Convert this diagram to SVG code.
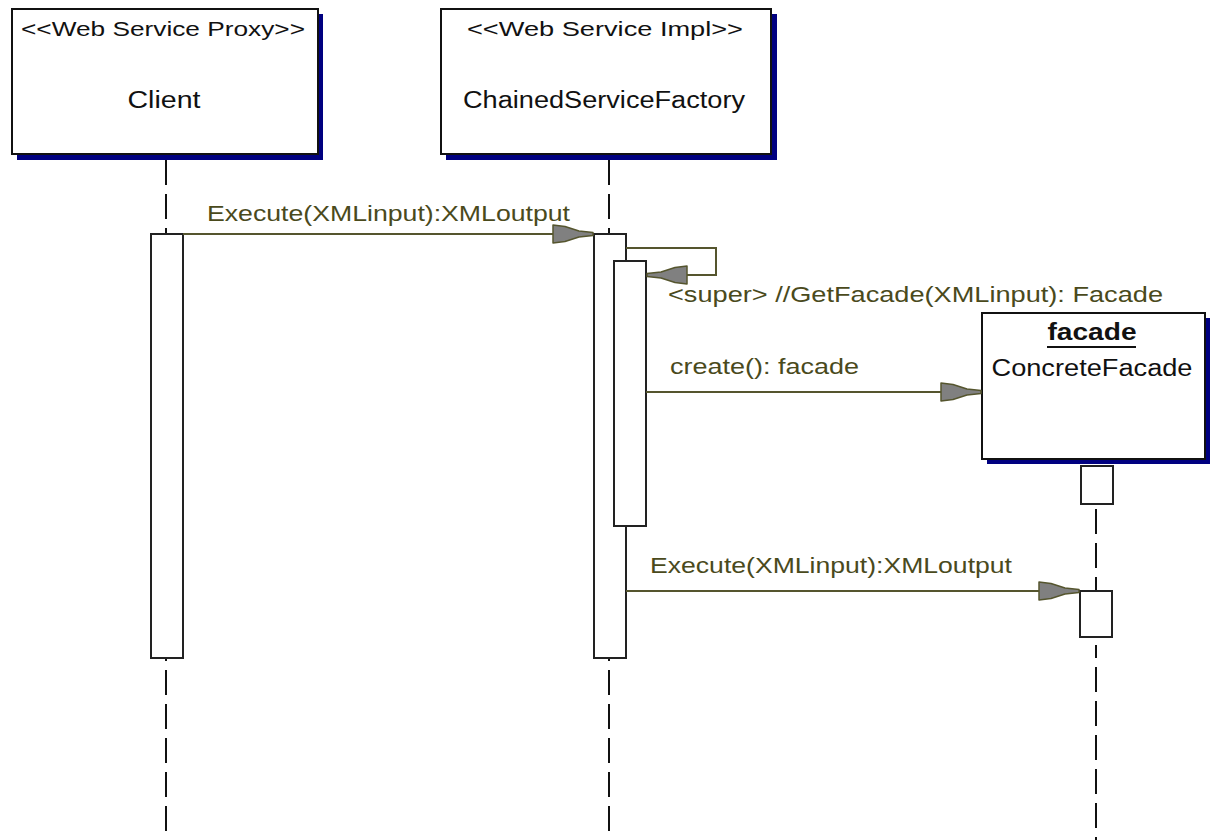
<svg xmlns="http://www.w3.org/2000/svg" width="1216" height="840" viewBox="0 0 1216 840">
<style>
.shadow{fill:#000080}
.box{fill:#fff;stroke:#111;stroke-width:2}
.act{fill:#fff;stroke:#222;stroke-width:2}
.life{stroke:#111;stroke-width:2;stroke-dasharray:25 9;fill:none}
.msg{stroke:#55552e;stroke-width:2;fill:none;marker-end:url(#arr)}
.t{font-family:"Liberation Sans",Arial,sans-serif;fill:#111}
.m{font-family:"Liberation Sans",Arial,sans-serif;fill:#4a4a1c;font-size:22px}
</style>
<defs>
<marker id="arr" viewBox="0 0 44 22" markerWidth="44" markerHeight="22" refX="42" refY="11" orient="auto" markerUnits="userSpaceOnUse">
<polygon points="2,2 14,3.5 28,8 42,9.5 42,12.5 28,14 14,18.5 2,20" fill="#808080" stroke="#55552e" stroke-width="1.5" stroke-linejoin="round"/>
</marker>
</defs>

<g id="lifelines">
<line class="life" x1="166" y1="160" x2="166" y2="840"/>
<line class="life" x1="609" y1="160" x2="609" y2="840"/>
<line class="life" x1="1096" y1="509" x2="1096" y2="591"/>
<line class="life" x1="1096" y1="645" x2="1096" y2="840" stroke-dashoffset="12"/>
<line x1="166" y1="154" x2="166" y2="160" stroke="#111" stroke-width="2"/>
<line x1="609" y1="154" x2="609" y2="160" stroke="#111" stroke-width="2"/>
</g>

<g id="client">
<rect class="shadow" x="17" y="14" width="306" height="146"/>
<rect class="box" x="12" y="9" width="306" height="145"/>
<text class="t" x="163" y="36" font-size="20" text-anchor="middle" textLength="284" lengthAdjust="spacingAndGlyphs">&lt;&lt;Web Service Proxy&gt;&gt;</text>
<text class="t" x="164" y="108" font-size="23" text-anchor="middle" textLength="73" lengthAdjust="spacingAndGlyphs">Client</text>
</g>

<g id="factory">
<rect class="shadow" x="446" y="14" width="331" height="146"/>
<rect class="box" x="441" y="9" width="330" height="145"/>
<text class="t" x="605" y="36" font-size="20" text-anchor="middle" textLength="276" lengthAdjust="spacingAndGlyphs">&lt;&lt;Web Service Impl&gt;&gt;</text>
<text class="t" x="604" y="108" font-size="23" text-anchor="middle" textLength="282" lengthAdjust="spacingAndGlyphs">ChainedServiceFactory</text>
</g>

<g id="facade">
<rect class="shadow" x="987" y="318" width="223" height="146"/>
<rect class="box" x="982" y="313" width="223" height="146"/>
<text class="t" x="1092" y="340" font-size="23" font-weight="bold" text-anchor="middle" textLength="89" lengthAdjust="spacingAndGlyphs">facade</text>
<line x1="1047" y1="347" x2="1136" y2="347" stroke="#111" stroke-width="2"/>
<text class="t" x="1092" y="376" font-size="23" text-anchor="middle" textLength="201" lengthAdjust="spacingAndGlyphs">ConcreteFacade</text>
</g>

<g id="activations">
<rect class="act" x="151" y="234" width="32" height="424"/>
<rect class="act" x="594" y="234" width="32" height="424"/>
<rect class="act" x="614" y="261" width="32" height="265"/>
<rect class="act" x="1081" y="466" width="32" height="38"/>
<rect class="act" x="1080" y="591" width="32" height="46"/>
</g>

<g id="connectors">
<line class="msg" x1="183" y1="234" x2="593" y2="234"/>
<path class="msg" d="M626,248 H716 V275 H647"/>
<line class="msg" x1="646" y1="392" x2="981" y2="392"/>
<line class="msg" x1="626" y1="591" x2="1079" y2="591"/>
</g>

<g id="labels">
<text class="m" x="207" y="221" textLength="363" lengthAdjust="spacingAndGlyphs">Execute(XMLinput):XMLoutput</text>
<text class="m" x="668" y="302" textLength="495" lengthAdjust="spacingAndGlyphs">&lt;super&gt; //GetFacade(XMLinput): Facade</text>
<text class="m" x="670" y="374" textLength="189" lengthAdjust="spacingAndGlyphs">create(): facade</text>
<text class="m" x="650" y="573" textLength="362" lengthAdjust="spacingAndGlyphs">Execute(XMLinput):XMLoutput</text>
</g>
</svg>
